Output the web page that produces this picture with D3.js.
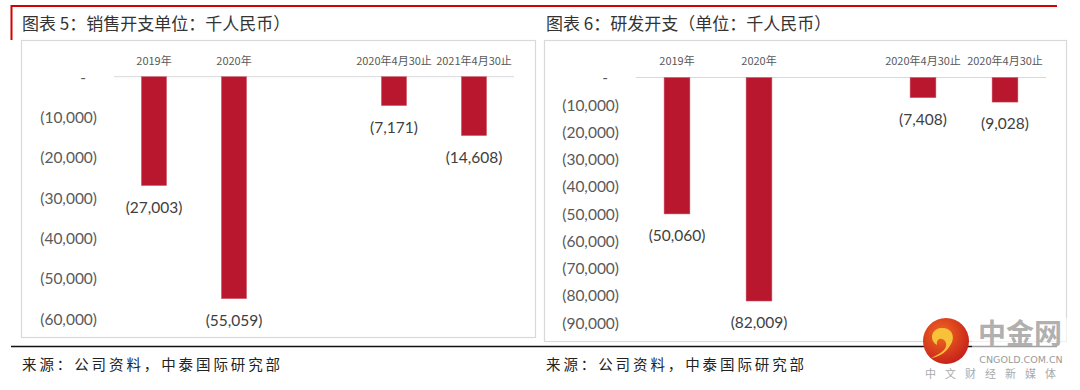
<!DOCTYPE html>
<html>
<head>
<meta charset="utf-8">
<script src="https://cdn.jsdelivr.net/npm/d3@7"></script>
<style>
  html, body { margin: 0; padding: 0; background: #fff; }
  svg { display: block; }
  .num { font-family: Lato, "Open Sans", sans-serif; }
  .cjk { font-family: "Noto Sans CJK SC", sans-serif; }
</style>
</head>
<body>
<div id="chart"></div>
<script>
// 数据
const salesCats = ['2019年', '2020年', '', '2020年4月30止', '2021年4月30止'];
const salesValues = [-27003, -55059, null, -7171, -14608];
const salesTicks = [0, -10000, -20000, -30000, -40000, -50000, -60000];

const rndCats = ['2019年', '2020年', '', '2020年4月30止', '2020年4月30止'];
const rndValues = [-50060, -82009, null, -7408, -9028];
const rndTicks = [0, -10000, -20000, -30000, -40000, -50000, -60000, -70000, -80000, -90000];

const title5 = '图表 5：销售开支单位：千人民币）';
const title6 = '图表 6：研发开支（单位：千人民币）';
const sourceText = '来源：公司资料，中泰国际研究部';

const width = 1080;
const height = 390;
const BAR = '#b8172e';

const svg = d3.select('#chart')
  .append('svg')
  .attr('width', width)
  .attr('height', height);

// 红色标题线
svg.append('line')
  .attr('x1', 11).attr('x2', 1057).attr('y1', 6).attr('y2', 6)
  .attr('stroke', '#d40000').attr('stroke-width', 2);
svg.append('line')
  .attr('x1', 11.5).attr('x2', 11.5).attr('y1', 5).attr('y2', 40)
  .attr('stroke', '#d40000').attr('stroke-width', 2);

// 底部黑线
svg.append('line')
  .attr('x1', 11).attr('x2', 1057).attr('y1', 346.5).attr('y2', 346.5)
  .attr('stroke', '#111').attr('stroke-width', 1.3);

const fmt = v => v === 0 ? '-' : '(' + d3.format(',')(-v) + ')';

function drawPanel(cfg) {
  const g = svg.append('g');

  g.append('text')
    .attr('class', 'cjk')
    .attr('x', cfg.titleX).attr('y', 22)
    .attr('dominant-baseline', 'central')
    .attr('font-size', 17)
    .attr('fill', '#333')
    .text(cfg.title);

  g.append('rect')
    .attr('x', cfg.box[0] + 0.5).attr('y', cfg.box[1] + 0.5)
    .attr('width', cfg.box[2] - cfg.box[0]).attr('height', cfg.box[3] - cfg.box[1])
    .attr('fill', 'none').attr('stroke', '#d9d9d9').attr('stroke-width', 1.2);

  const x = d3.scaleBand()
    .domain(d3.range(cfg.cats.length))
    .range(cfg.xRange)
    .paddingInner(0.685)
    .paddingOuter(0.3425);

  const y = d3.scaleLinear()
    .domain([d3.min(cfg.ticks), 0])
    .range(cfg.yRange);

  // 零线
  g.append('line')
    .attr('x1', cfg.xRange[0]).attr('x2', cfg.xRange[1])
    .attr('y1', y(0)).attr('y2', y(0))
    .attr('stroke', '#d9d9d9').attr('stroke-width', 1);

  // y 轴
  const yAxis = g.append('g')
    .attr('transform', `translate(${cfg.tickRight},0)`)
    .call(d3.axisLeft(y).tickValues(cfg.ticks).tickFormat(fmt).tickSize(0).tickPadding(0));
  yAxis.select('.domain').remove();
  yAxis.selectAll('text')
    .attr('class', 'num')
    .attr('font-size', 15.5)
    .attr('fill', '#595959')
    .attr('dy', '0.35em');
  yAxis.selectAll('.tick').filter(d => d === 0).select('text')
    .attr('x', -11);

  // 类别标签
  const xAxis = g.append('g')
    .attr('transform', `translate(0,${cfg.catY})`)
    .call(d3.axisTop(x).tickFormat(i => cfg.cats[i]).tickSize(0).tickPadding(0));
  xAxis.select('.domain').remove();
  xAxis.selectAll('text')
    .attr('class', 'cjk')
    .attr('font-size', 11)
    .attr('fill', '#595959')
    .attr('dy', '0.35em');

  const data = cfg.values.map((v, i) => ({ i, v })).filter(d => d.v != null);

  g.append('g')
    .selectAll('rect')
    .data(data)
    .enter().append('rect')
    .attr('x', d => x(d.i))
    .attr('y', y(0))
    .attr('width', x.bandwidth())
    .attr('height', d => y(d.v) - y(0))
    .attr('fill', BAR)
    .attr('stroke', '#d0606f')
    .attr('stroke-width', 0.5);

  g.append('g')
    .selectAll('text')
    .data(data)
    .enter().append('text')
    .attr('class', 'num')
    .attr('x', d => x(d.i) + x.bandwidth() / 2)
    .attr('y', d => y(d.v) + 21)
    .attr('text-anchor', 'middle')
    .attr('dominant-baseline', 'central')
    .attr('font-size', 15.5)
    .attr('fill', '#404040')
    .text(d => fmt(d.v));

  g.append('text')
    .attr('class', 'cjk')
    .attr('x', cfg.titleX).attr('y', 363)
    .attr('dominant-baseline', 'central')
    .attr('font-size', 14.5)
    .attr('letter-spacing', 2.9)
    .attr('fill', '#222')
    .text(sourceText);
}

drawPanel({
  title: title5, titleX: 22,
  box: [21, 40, 535, 337],
  cats: salesCats, values: salesValues, ticks: salesTicks,
  xRange: [114, 514], yRange: [318.6, 76.7],
  tickRight: 97, catY: 61
});

drawPanel({
  title: title6, titleX: 546,
  box: [544, 40, 1066, 341],
  cats: rndCats, values: rndValues, ticks: rndTicks,
  xRange: [636, 1046], yRange: [322.8, 77.5],
  tickRight: 619, catY: 61
});

// 水印 logo
const defs = svg.append('defs');
const grad = defs.append('radialGradient').attr('id', 'logoGrad')
  .attr('cx', '40%').attr('cy', '35%').attr('r', '70%');
grad.append('stop').attr('offset', '0%').attr('stop-color', '#f26a22');
grad.append('stop').attr('offset', '100%').attr('stop-color', '#c41e1a');

const logo = svg.append('g');
logo.append('rect')
  .attr('x', 972).attr('y', 318).attr('width', 96).attr('height', 30)
  .attr('fill', '#fff').attr('opacity', 0.6);
logo.append('circle')
  .attr('cx', 946).attr('cy', 341).attr('r', 23)
  .attr('fill', 'url(#logoGrad)');
logo.append('path')
  .attr('d', 'M937,345 C929,340 931,329 941,328 C951,327 956,336 951,344 C947,352 939,357 931,358 C943,353 949,347 945,341 C942,337 936,338 937,345 Z')
  .attr('fill', '#f7c23a');
logo.append('text')
  .attr('class', 'cjk')
  .attr('x', 1020).attr('y', 332)
  .attr('text-anchor', 'middle').attr('dominant-baseline', 'central')
  .attr('font-size', 28).attr('font-weight', 'bold')
  .attr('fill', '#b0b0b0')
  .text('中金网');
logo.append('text')
  .attr('x', 1021).attr('y', 359.5)
  .attr('text-anchor', 'middle').attr('dominant-baseline', 'central')
  .attr('font-family', '"DejaVu Sans", sans-serif')
  .attr('font-size', 9.5)
  .attr('fill', '#9a9a9a')
  .text('CNGOLD.COM.CN');
logo.append('text')
  .attr('class', 'cjk')
  .attr('x', 995).attr('y', 372.5)
  .attr('text-anchor', 'middle').attr('dominant-baseline', 'central')
  .attr('font-size', 11)
  .attr('letter-spacing', 9)
  .attr('fill', '#aaa')
  .text('中文财经新媒体');
</script>
</body>
</html>
